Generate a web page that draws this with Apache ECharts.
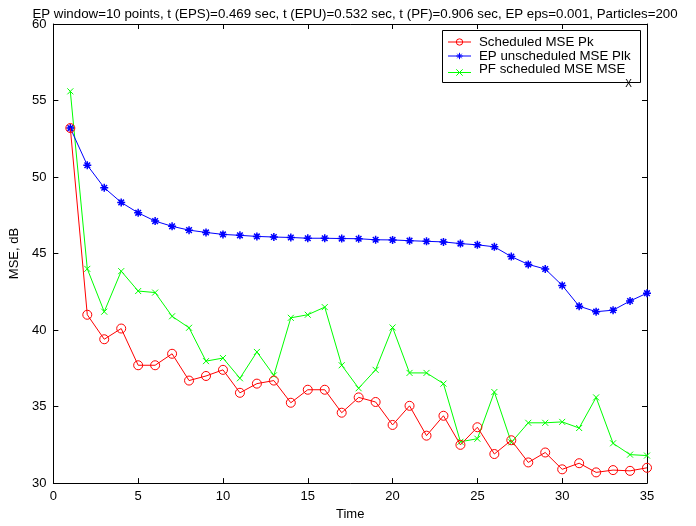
<!DOCTYPE html>
<html>
<head>
<meta charset="utf-8">
<script src="https://cdn.jsdelivr.net/npm/echarts@6/dist/echarts.min.js"></script>
<style>
  html, body { margin: 0; padding: 0; background: #fff; }
  #main { width: 696px; height: 526px; }
</style>
</head>
<body>
<div id="main"></div>
<script>
// time steps 1..35
const time = [];
for (let i = 1; i <= 35; i++) time.push(i);

const scheduledPk = [53.2, 41.0, 39.4, 40.1, 37.7, 37.7, 38.45, 36.7, 37.0, 37.4,
  35.9, 36.5, 36.7, 35.25, 36.1, 36.1, 34.6, 35.6, 35.3, 33.8,
  35.05, 33.1, 34.4, 32.5, 33.65, 31.9, 32.8, 31.35, 32.0, 30.9,
  31.3, 30.7, 30.85, 30.8, 31.0];

const epUnscheduledPlk = [53.2, 50.77, 49.3, 48.34, 47.66, 47.12, 46.78, 46.53, 46.38, 46.25,
  46.19, 46.12, 46.08, 46.05, 46.0, 46.0, 45.98, 45.97, 45.9, 45.89,
  45.84, 45.8, 45.76, 45.65, 45.57, 45.44, 44.8, 44.29, 43.99, 42.92,
  41.56, 41.2, 41.3, 41.9, 42.41];

const pfScheduledMse = [55.6, 44.0, 41.2, 43.85, 42.55, 42.45, 40.9, 40.15, 37.97, 38.17,
  36.85, 38.57, 37.04, 40.8, 41.0, 41.5, 37.7, 36.2, 37.4, 40.17,
  37.2, 37.2, 36.5, 32.7, 32.9, 35.95, 32.66, 33.94, 33.94, 34.0,
  33.6, 35.6, 32.6, 31.86, 31.8];

const titleText = 'EP window=10 points, t (EPS)=0.469 sec, t (EPU)=0.532 sec, t (PF)=0.906 sec, EP eps=0.001, Particles=200';
const seriesNames = ['Scheduled MSE Pk', 'EP unscheduled MSE Plk', 'PF scheduled MSE MSEX'];

const font = 'Liberation Sans, Arial, Helvetica, sans-serif';
const star = 'path://M0 -1 L0 1 M-1 0 L1 0 M-0.7 -0.7 L0.7 0.7 M-0.7 0.7 L0.7 -0.7';
const cross = 'path://M-1 -1 L1 1 M-1 1 L1 -1';

function pairs(ys) {
  return time.map((t, i) => [t, ys[i]]);
}

const chart = echarts.init(document.getElementById('main'));

const axisCommon = {
  axisLine: { show: true, onZero: false, lineStyle: { color: '#000', width: 1 } },
  axisTick: { show: true, inside: true, length: 5, lineStyle: { color: '#000' } },
  splitLine: { show: false }
};

chart.setOption({
  animation: false,
  backgroundColor: '#fff',
  textStyle: { fontFamily: font },
  title: {
    text: titleText,
    left: 350,
    top: 3,
    textAlign: 'center',
    textStyle: { fontSize: 13.3, fontWeight: 'normal', color: '#000', fontFamily: font }
  },
  grid: { left: 52, right: 49, top: 24, bottom: 33, containLabel: false },
  // legend frame (MATLAB style box, subscript may run over its lower edge)
  graphic: {
    elements: [{
      type: 'rect',
      z: 1,
      shape: { x: 442.5, y: 30.5, width: 198, height: 52 },
      style: { fill: '#fff', stroke: '#000', lineWidth: 1 }
    }]
  },
  legend: {
    z: 10,
    right: 55,
    top: 30,
    orient: 'vertical',
    itemGap: 0,
    itemWidth: 23,
    itemHeight: 8,
    padding: [5, 9, 0, 7],
    lineStyle: { width: 1 },
    itemStyle: { borderWidth: 1 },
    textStyle: {
      fontSize: 13.3,
      lineHeight: 14,
      color: '#000',
      fontFamily: font,
      padding: [0, 0, 0, 3],
      rich: {
        m: { fontSize: 13.3, lineHeight: 14, padding: [0, 0, 6, 0], color: '#000' },
        sub: { fontSize: 10, lineHeight: 10, padding: [12, 0, -12, 0], color: '#000' }
      }
    },
    formatter: function (name) {
      if (name === 'PF scheduled MSE MSEX') return '{m|PF scheduled MSE MSE}{sub|X}';
      return name;
    },
    data: seriesNames
  },
  xAxis: [
    Object.assign({
      type: 'value',
      min: 0, max: 35, interval: 5,
      name: 'Time',
      nameLocation: 'middle',
      nameGap: 19,
      nameTextStyle: { fontSize: 13, color: '#000', fontFamily: font },
      axisLabel: { fontSize: 13, color: '#000', margin: 7, fontFamily: font }
    }, axisCommon),
    Object.assign({
      type: 'value', position: 'top',
      min: 0, max: 35, interval: 5,
      axisLabel: { show: false }
    }, axisCommon)
  ],
  yAxis: [
    Object.assign({
      type: 'value',
      min: 30, max: 60, interval: 5,
      name: 'MSE, dB',
      nameLocation: 'middle',
      nameGap: 26,
      nameTextStyle: { fontSize: 13, color: '#000', fontFamily: font },
      axisLabel: { fontSize: 13, color: '#000', margin: 7, fontFamily: font }
    }, axisCommon),
    Object.assign({
      type: 'value', position: 'right',
      min: 30, max: 60, interval: 5,
      axisLabel: { show: false }
    }, axisCommon)
  ],
  series: [
    {
      name: seriesNames[0],
      type: 'line',
      data: pairs(scheduledPk),
      symbol: 'circle',
      symbolSize: 9,
      showAllSymbol: true,
      lineStyle: { color: '#ff0000', width: 1 },
      itemStyle: { color: 'rgba(0,0,0,0)', borderColor: '#ff0000', borderWidth: 1 },
      z: 3
    },
    {
      name: seriesNames[1],
      type: 'line',
      data: pairs(epUnscheduledPlk),
      symbol: star,
      symbolSize: 8,
      showAllSymbol: true,
      lineStyle: { color: '#0000ff', width: 1 },
      itemStyle: { color: 'rgba(0,0,0,0)', borderColor: '#0000ff', borderWidth: 1.5 },
      z: 2
    },
    {
      name: seriesNames[2],
      type: 'line',
      data: pairs(pfScheduledMse),
      symbol: cross,
      symbolSize: 6,
      showAllSymbol: true,
      lineStyle: { color: '#00ff00', width: 1 },
      itemStyle: { color: 'rgba(0,0,0,0)', borderColor: '#00ff00', borderWidth: 1 },
      z: 1
    }
  ]
});
</script>
</body>
</html>
